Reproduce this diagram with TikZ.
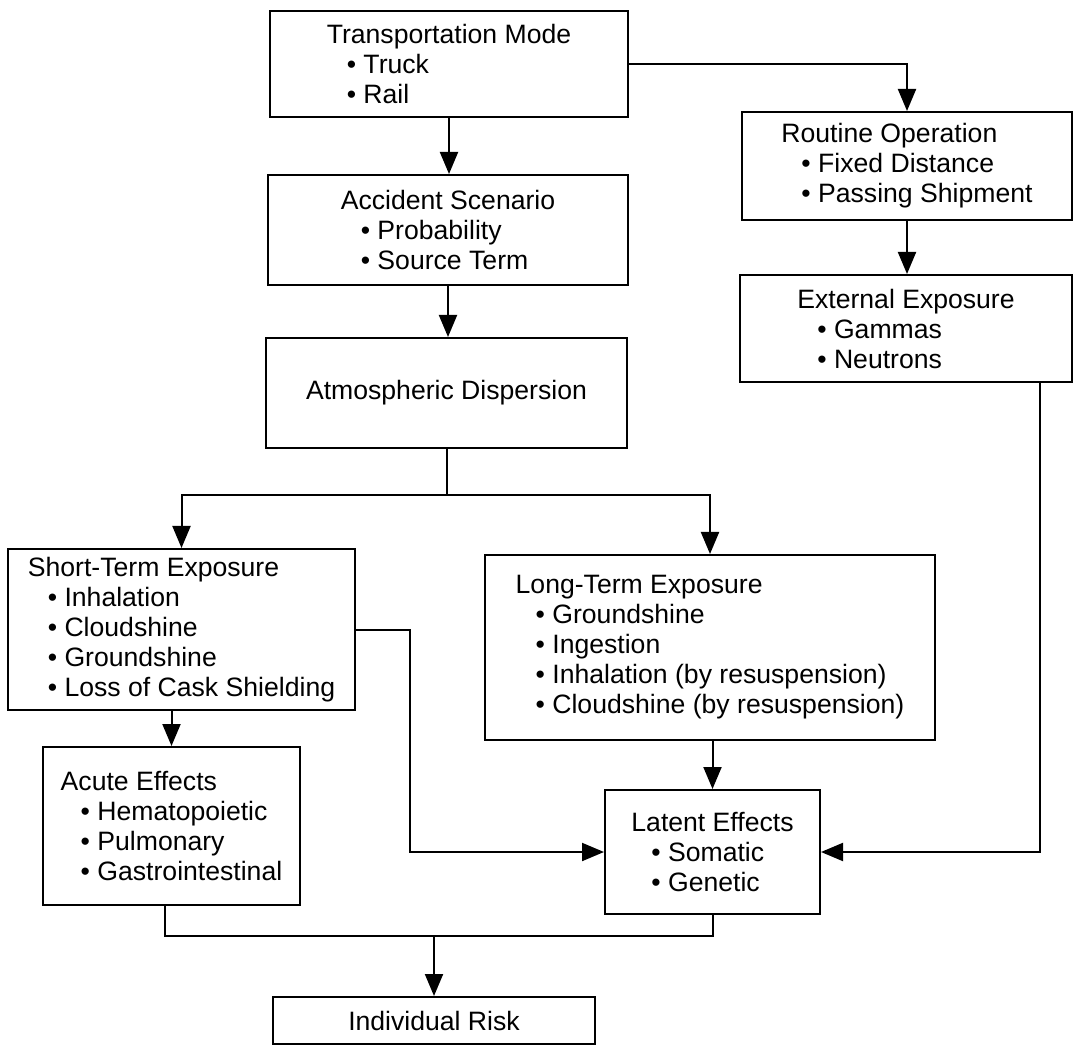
\documentclass[tikz,border=0pt]{standalone}
\usepackage{fontspec}
\setmainfont{Liberation Sans}
\usetikzlibrary{arrows.meta}
\newcommand\blt{\hspace*{10pt}•\ }
\begin{document}
\begin{tikzpicture}[x=0.5pt,y=-0.5pt,
  box/.style={draw, line width=1pt, inner sep=0pt, align=left,
    font=\fontsize{13.3}{15}\selectfont},
  conn/.style={line width=1pt},
  arr/.style={conn, -{Triangle[length=11pt,width=9pt]}}]
\useasboundingbox (0,0) rectangle (1091,1052);

% nodes
\node[box, minimum width=179pt, minimum height=53pt] (trans) at (449,64)
  {Transportation Mode\\\blt Truck\\\blt Rail};
\node[box, minimum width=180pt, minimum height=55pt] (acc) at (448,230)
  {Accident Scenario\\\blt Probability\\\blt Source Term};
\node[box, minimum width=180.5pt, minimum height=55pt] (atm) at (446.5,393)
  {Atmospheric Dispersion};
\node[box, minimum width=165pt, minimum height=54pt] (rout) at (907,166)
  {Routine Operation\\\blt Fixed Distance\\\blt Passing Shipment};
\node[box, minimum width=166pt, minimum height=53.5pt] (ext) at (906,328.5)
  {External Exposure\\\blt Gammas\\\blt Neutrons};
\node[box, minimum width=173.5pt, minimum height=80.5pt] (st) at (181.5,629.5)
  {Short-Term Exposure\\\blt Inhalation\\\blt Cloudshine\\\blt Groundshine\\\blt Loss of Cask Shielding};
\node[box, minimum width=225pt, minimum height=92.5pt] (lt) at (710,647.5)
  {Long-Term Exposure\\\blt Groundshine\\\blt Ingestion\\\blt Inhalation (by resuspension)\\\blt Cloudshine (by resuspension)};
\node[box, minimum width=128.5pt, minimum height=79pt] (ac) at (171.5,826)
  {Acute Effects\\\blt Hematopoietic\\\blt Pulmonary\\\blt Gastrointestinal};
\node[box, minimum width=107.5pt, minimum height=62pt] (lat) at (712.5,852)
  {Latent Effects\\\blt Somatic\\\blt Genetic};
\node[box, minimum width=161pt, minimum height=23.5pt] (ir) at (434,1020.5)
  {Individual Risk};

% helper coordinates
\coordinate (j1) at (446.5,495);
\coordinate (k1) at (410,629.5);
\coordinate (k2) at (1040,852);
\coordinate (k3) at (165,936);

% connectors
\draw[arr] (trans.south) -- (trans.south |- acc.north);
\draw[arr] (trans.east) -| (rout.north);
\draw[arr] (rout.south) -- (rout.south |- ext.north);
\draw[arr] (acc.south) -- (acc.south |- atm.north);
\draw[conn] (atm.south) -- (j1);
\draw[arr] (j1) -| (st.north);
\draw[arr] (j1) -| (lt.north);
\draw[arr] (st.east) -- (k1) |- (lat.west);
\draw[arr] (ac.north |- st.south) -- (ac.north);
\draw[arr] (lat.north |- lt.south) -- (lat.north);
\draw[arr] (ext.south -| k2) -- (k2) -- (lat.east);
\draw[conn] (ac.south -| k3) -- (k3) -| (lat.south);
\draw[arr] (ir.north |- k3) -- (ir.north);
\end{tikzpicture}
\end{document}
